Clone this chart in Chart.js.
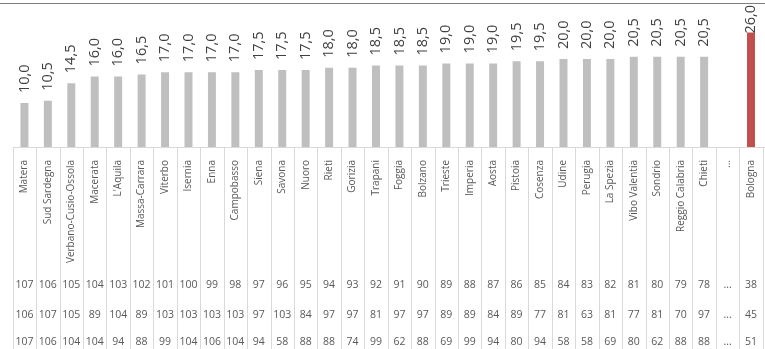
<!DOCTYPE html>
<html>
<head>
<meta charset="utf-8">
<script src="https://cdn.jsdelivr.net/npm/chart.js@4/dist/chart.umd.min.js"></script>
<style>
html,body{margin:0;padding:0;background:#fff;overflow:hidden;}
#wrap{width:768px;height:349px;}
</style>
</head>
<body>
<div id="wrap"><canvas id="chart" width="768" height="349"></canvas></div>
<script>
// province in ordine (la colonna "..." e' vuota)
const province = ["Matera","Sud Sardegna","Verbano-Cusio-Ossola","Macerata","L'Aquila","Massa-Carrara","Viterbo","Isernia","Enna","Campobasso","Siena","Savona","Nuoro","Rieti","Gorizia","Trapani","Foggia","Bolzano","Trieste","Imperia","Aosta","Pistoia","Cosenza","Udine","Perugia","La Spezia","Vibo Valentia","Sondrio","Reggio Calabria","Chieti","...","Bologna"];

// valori delle barre
const valori = [10.0,10.5,14.5,16.0,16.0,16.5,17.0,17.0,17.0,17.0,17.5,17.5,17.5,18.0,18.0,18.5,18.5,18.5,19.0,19.0,19.0,19.5,19.5,20.0,20.0,20.0,20.5,20.5,20.5,20.5,null,26.0];

// tabella sotto il grafico (null = "...")
const posizione1 = [107,106,105,104,103,102,101,100,99,98,97,96,95,94,93,92,91,90,89,88,87,86,85,84,83,82,81,80,79,78,null,38];
const posizione2 = [106,107,105,89,104,89,103,103,103,103,97,103,84,97,97,81,97,97,89,89,84,89,77,81,63,81,77,81,70,97,null,45];
const posizione3 = [107,106,104,104,94,88,99,104,106,104,94,58,88,88,74,99,62,88,69,99,94,80,94,58,58,69,80,62,88,88,null,51];
const righe = [posizione1, posizione2, posizione3];

const grigio = "#bfbfbf";
const rosso = "#c0504d";

// disegna linea in alto, etichette dei valori e tabella
const tabella = {
  id: "tabella",
  beforeDraw(c){
    const ctx = c.ctx;
    ctx.save();
    ctx.strokeStyle = "#7f7f7f";
    ctx.lineWidth = 1;
    ctx.beginPath();
    ctx.moveTo(0, 3.5);
    ctx.lineTo(c.width, 3.5);
    ctx.stroke();
    ctx.restore();
  },
  afterDatasetsDraw(c){
    const ctx = c.ctx;
    const meta = c.getDatasetMeta(0);
    ctx.save();
    ctx.font = "14.5px 'Open Sans'";
    ctx.fillStyle = "#404040";
    ctx.textAlign = "left";
    ctx.textBaseline = "middle";
    meta.data.forEach((bar, i) => {
      const v = valori[i];
      if (v === null) return;
      const testo = v.toFixed(1).replace(".", ",");
      const w = ctx.measureText(testo).width;
      let y = bar.y - 10;
      if (y - w < 5) y = 5 + w; // non uscire sopra
      ctx.save();
      ctx.translate(bar.x, y);
      ctx.rotate(-Math.PI / 2);
      ctx.fillText(testo, 0, 0);
      ctx.restore();
    });
    ctx.restore();
  },
  afterDraw(c){
    const ctx = c.ctx;
    const x = c.scales.x;
    const area = c.chartArea;
    const passo = x.getPixelForValue(1) - x.getPixelForValue(0);
    ctx.save();
    ctx.strokeStyle = "#d9d9d9";
    ctx.lineWidth = 1;
    // linea orizzontale
    ctx.beginPath();
    ctx.moveTo(area.left, Math.round(area.bottom) + 0.5);
    ctx.lineTo(c.width, Math.round(area.bottom) + 0.5);
    ctx.stroke();
    // linee verticali
    for (let i = 0; i <= province.length; i++) {
      const bx = Math.round(x.getPixelForValue(i) - passo / 2) + 0.5;
      ctx.beginPath();
      ctx.moveTo(bx, area.bottom);
      ctx.lineTo(bx, c.height);
      ctx.stroke();
    }
    // numeri
    ctx.font = "10.5px 'Open Sans'";
    ctx.fillStyle = "#595959";
    ctx.textAlign = "center";
    ctx.textBaseline = "middle";
    const righeY = [138, 168, 195];
    righe.forEach((riga, r) => {
      riga.forEach((n, i) => {
        const testo = n === null ? "..." : String(n);
        ctx.fillText(testo, x.getPixelForValue(i), area.bottom + righeY[r]);
      });
    });
    ctx.restore();
  }
};

const chart = new Chart(document.getElementById("chart"), {
  type: "bar",
  data: {
    labels: province,
    datasets: [{
      data: valori,
      backgroundColor: ctx => province[ctx.dataIndex] === "Bologna" ? rosso : grigio,
      barPercentage: 0.34,
      categoryPercentage: 1
    }]
  },
  options: {
    responsive: false,
    animation: false,
    devicePixelRatio: 1,
    layout: { padding: { left: 12.7, right: 0, top: 15, bottom: 0 } },
    plugins: {
      legend: { display: false },
      tooltip: { enabled: false }
    },
    scales: {
      x: {
        grid: { display: false },
        border: { display: false },
        ticks: {
          autoSkip: false,
          minRotation: 90,
          maxRotation: 90,
          padding: 5,
          color: "#595959",
          font: { family: "'Open Sans'", size: 10 }
        },
        afterFit: s => { s.height = 202; }
      },
      y: {
        display: false,
        min: 0,
        max: 30
      }
    }
  },
  plugins: [tabella]
});
</script>
</body>
</html>
